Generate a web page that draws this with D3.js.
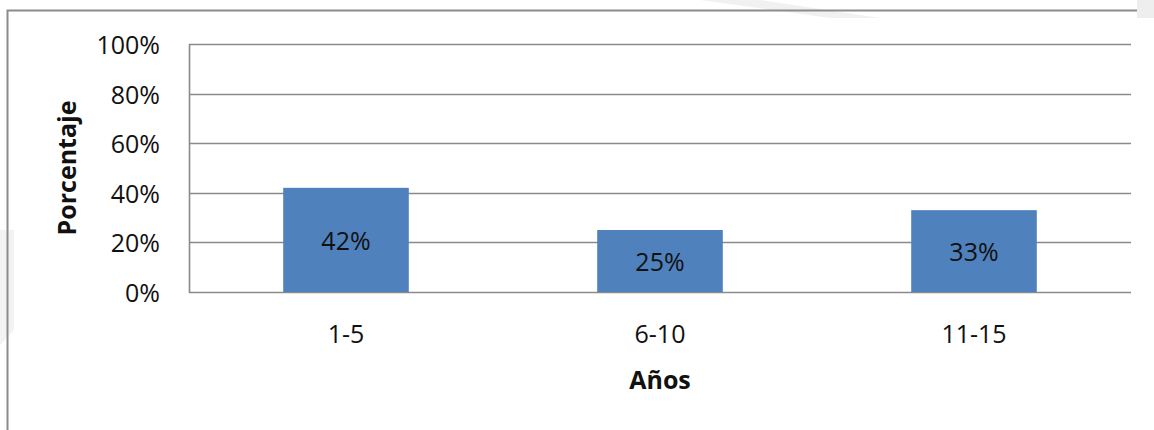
<!DOCTYPE html>
<html>
<head>
<meta charset="utf-8">
<script src="https://cdn.jsdelivr.net/npm/d3@7"></script>
<style>
  html, body { margin: 0; padding: 0; background: #fff; }
  svg { display: block; }
  text { font-family: "Open Sans", "Noto Sans", sans-serif; fill: #111; }
</style>
</head>
<body>
<svg id="chart" width="1154" height="430"></svg>
<script>
const categories = ["1-5", "6-10", "11-15"];
const values = [0.42, 0.25, 0.33];
const valueLabels = ["42%", "25%", "33%"];
const yTicks = [0, 0.2, 0.4, 0.6, 0.8, 1.0];
const xTitle = "Años";
const yTitle = "Porcentaje";

(function () {
const svg = d3.select("#chart");
const fs = 25;

// watermark-like faint diagonal shapes
svg.append("path")
  .attr("d", "M700,0 L760,0 L880,18 L830,18 Z")
  .attr("fill", "#f1f1f1");
svg.append("path")
  .attr("d", "M0,230 L14,230 L14,330 L0,345 Z")
  .attr("fill", "#f3f3f3");

// outer frame
svg.append("path")
  .attr("d", "M7.5,430 L7.5,10.5 L1138,10.5")
  .attr("fill", "none")
  .attr("stroke", "#8c8c8c")
  .attr("stroke-width", 2);
svg.append("rect").attr("x", 1137).attr("y", 0).attr("width", 17).attr("height", 18).attr("fill", "#eeeeee");

const pLeft = 189, pRight = 1131, pTop = 44, pBottom = 292;

const x = d3.scaleBand().domain(categories).range([pLeft, pRight])
  .paddingInner(0.6).paddingOuter(0.3);
const y = d3.scaleLinear().domain([0, 1]).range([pBottom, pTop]);

// gridlines
svg.append("g").selectAll("line").data(yTicks).join("line")
  .attr("x1", pLeft).attr("x2", pRight)
  .attr("y1", d => Math.round(y(d)) + 0.5).attr("y2", d => Math.round(y(d)) + 0.5)
  .attr("stroke", "#8a8a8a").attr("stroke-width", 1.6);

// y axis line
svg.append("line")
  .attr("x1", pLeft + 0.5).attr("x2", pLeft + 0.5)
  .attr("y1", y(1)).attr("y2", y(0) + 1)
  .attr("stroke", "#8a8a8a").attr("stroke-width", 1.6);

// y tick labels
svg.append("g").selectAll("text").data(yTicks).join("text")
  .attr("x", 160).attr("y", d => y(d))
  .attr("text-anchor", "end").attr("dominant-baseline", "central")
  .attr("font-size", fs)
  .text(d => d3.format(".0%")(d));

// bars
svg.append("g").selectAll("rect").data(values).join("rect")
  .attr("x", (d, i) => x(categories[i]))
  .attr("width", x.bandwidth())
  .attr("y", d => y(d))
  .attr("height", d => y(0) - y(d))
  .attr("fill", "#4f81bd");

// value labels
svg.append("g").selectAll("text").data(values).join("text")
  .attr("x", (d, i) => x(categories[i]) + x.bandwidth() / 2)
  .attr("y", d => (y(d) + y(0)) / 2)
  .attr("text-anchor", "middle").attr("dominant-baseline", "central")
  .attr("font-size", fs)
  .text((d, i) => valueLabels[i]);

// category labels
svg.append("g").selectAll("text").data(categories).join("text")
  .attr("x", d => x(d) + x.bandwidth() / 2)
  .attr("y", 333)
  .attr("text-anchor", "middle").attr("dominant-baseline", "central")
  .attr("font-size", fs)
  .text(d => d);

// axis titles
svg.append("text")
  .attr("x", (pLeft + pRight) / 2).attr("y", 379)
  .attr("text-anchor", "middle").attr("dominant-baseline", "central")
  .attr("font-size", fs).attr("font-weight", "bold")
  .text(xTitle);

svg.append("text")
  .attr("transform", `translate(66,168) rotate(-90)`)
  .attr("text-anchor", "middle").attr("dominant-baseline", "central")
  .attr("font-size", fs).attr("font-weight", "bold")
  .text(yTitle);
})();
</script>
</body>
</html>
